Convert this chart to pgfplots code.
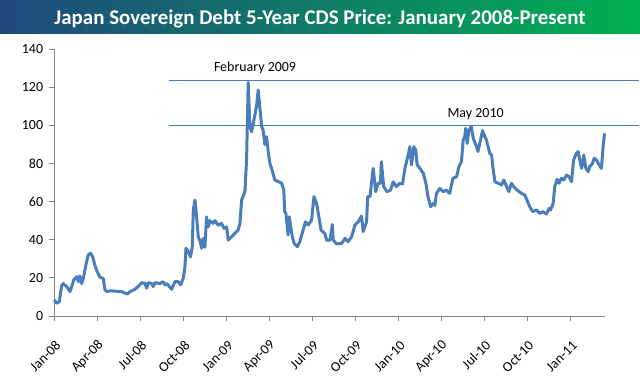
\documentclass[border=0pt]{standalone}
\usepackage{fontspec}
\setmainfont{Carlito}
\usepackage{pgfplots}
\pgfplotsset{compat=1.18}
\definecolor{cdsblue}{RGB}{74,126,187}
\definecolor{axgray}{RGB}{134,134,134}
\definecolor{tleft}{RGB}{31,73,125}
\definecolor{tright}{RGB}{0,176,80}
\begin{document}
\begin{tikzpicture}[x=1bp,y=1bp]
\path[use as bounding box] (0,0) rectangle (640,377);
\shade[left color=tleft, right color=tright] (0,344) rectangle (640,377);
\node[text=white, font=\bfseries\fontsize{21}{24}\selectfont, anchor=base] at (320,353) {Japan Sovereign Debt 5-Year CDS Price: January 2008-Present};
\begin{axis}[
  at={(54.3bp,61bp)}, anchor=south west, scale only axis,
  width=550.4bp, height=267bp,
  xmin=0, xmax=1168, ymin=0, ymax=140,
  axis x line*=bottom, axis y line*=left,
  axis line style={axgray, line width=0.8bp},
  tick style={axgray, line width=0.8bp},
  major tick length=5bp, tick align=outside,
  xtick={0,91,182,274,366,456,547,639,731,821,912,1004,1096},
  xticklabels={Jan-08,Apr-08,Jul-08,Oct-08,Jan-09,Apr-09,Jul-09,Oct-09,Jan-10,Apr-10,Jul-10,Oct-10,Jan-11},
  ytick={0,20,...,140},
  clip=false,
  /pgf/number format/assume math mode=true,
  ticklabel style={font=\fontsize{14}{16}\selectfont, text=black},
  yticklabel style={inner sep=0pt, xshift=-6bp},
  xticklabel style={inner sep=0pt, xshift=4bp, yshift=-22bp, rotate=45, anchor=east},
]
\draw[cdsblue, line width=1bp] (axis cs:243,123.5) -- (axis cs:1240,123.5);
\draw[cdsblue, line width=1bp] (axis cs:243,100) -- (axis cs:1240,100);
\addplot[cdsblue, line width=3bp, line join=round] coordinates {
(0,8.4)(5,6.7)(10.6,7.5)(15.7,16)(19,17)(26.3,15.4)(33.3,12.8)(37,15.4)(41.8,19.2)(47.5,20.6)
(51,18)(54.5,21)(58,17)(61.5,19.5)(67,26.7)(72,32)(77,32.9)(81.5,31)(86,26.7)(91,23.2)
(97,20.3)(104,19.7)(107.5,13.6)(112.4,12.8)(118,13.2)(132,13)(143,12.8)(150,12)(155,11.5)(160.6,12.8)
(171,14)(178,15.4)(185.4,17.5)(192.4,17)(196,14.6)(199.4,17.5)(206.6,17)(210,15.4)(213.6,17.5)(224,17)
(231,18)(235,16.3)(239,17)(249,14)(256,18)(263,18)(268,16.3)(273.6,19.8)(277,25)(279.4,35.5)
(284,34)(289,31)(292.7,36)(295,55.6)(298.5,60.8)(302,52)(305.5,41.6)(309,39.5)(312.7,35.5)(316,40.7)
(319.7,36)(323,52)(326.7,46.7)(330,50)(337,48.6)(341,50)(348,47.6)(355,48.6)(360,46)(365.7,46.7)
(369,39.8)(376,41.6)(383,43.3)(390,45)(394,48.6)(397.5,60.8)(404.5,65.2)(408,81.8)(411.5,122.5)(415,99.3)
(418.7,96.6)(423.6,102.8)(429,109.8)(432.7,118.5)(436,109.8)(440,99.3)(443,97.5)(447,89.9)(450.5,94)(454,86)
(457.5,80)(461,77.5)(468,71.3)(475,70.5)(482.4,69.7)(487,66)(489,54.7)(491.5,53.8)(496,42.5)(498.5,52)
(505,41.6)(509,38.1)(516,36.3)(521,39)(527,44.2)(533,49.4)(539,47.7)(546,50.3)(551,62.6)(556.6,59)
(562,51.2)(566,45)(574,43.3)(578,39.8)(585,39.8)(590,48)(592,39.8)(599,37.8)(610,38.1)(616.7,40.7)
(623.7,39)(631,41.6)(638,47.7)(645,49.4)(652,52.4)(655.5,44.2)(662.7,49.4)(665,62.6)(670,62.6)(673,69.6)
(676.7,77.4)(682,65.2)(687,69.6)(692,69.6)(694,80.9)(699,67.8)(706,65.2)(713.6,66)(719,70.4)(726,67.8)
(733,69.6)(739,69.3)(744,77.4)(751,84.4)(754.5,88.8)(758,79.2)(763,88.8)(767,87)(770,79.2)(776,77.4)
(783,74.8)(788.5,69.6)(793,62.6)(798.5,57.3)(804,59)(807.5,58)(811,64.3)(818,66.9)(825,65.2)(832,66)
(839,64.3)(846,72.2)(853.6,73)(858.5,78.3)(864,80.9)(867.6,92.3)(871,94)(873,98.4)(876,90.5)(880,97.6)
(885,99.3)(889,93.2)(896,88.8)(899,86.2)(904.5,92.3)(908.7,97.2)(913.6,94)(917,92.3)(924,85.3)(928,84.4)
(931,77.4)(935,70.4)(942,69.6)(949,68.7)(954,71.3)(960,67.8)(964.5,65.2)(970,69.6)(975,67.8)(982,66)
(991.5,64.3)(998.5,63.4)(1003,60.8)(1009,57.3)(1015,54.7)(1023,55.6)(1030,53.8)(1037,54.7)(1044.5,53.5)(1050,56.5)
(1053,55.6)(1058.5,59)(1062,67.8)(1067,71.7)(1071,69.6)(1076,72.2)(1081,71.3)(1087,73.9)(1092.5,73)(1097.5,70.4)
(1102,81.8)(1108,85.3)(1111.5,86.2)(1116.6,80)(1119,77.4)(1123.6,84.4)(1128,77.4)(1133,75.7)(1136,78.3)(1142,80)
(1145.5,82.7)(1150.5,81.8)(1156,79.2)(1161,77.4)(1164.6,88.8)(1167.6,95.8)
};
\node[font=\fontsize{14}{16}\selectfont] at (axis cs:426,130) {February 2009};
\node[font=\fontsize{14}{16}\selectfont] at (axis cs:894,106) {May 2010};
\end{axis}
\end{tikzpicture}
\end{document}
